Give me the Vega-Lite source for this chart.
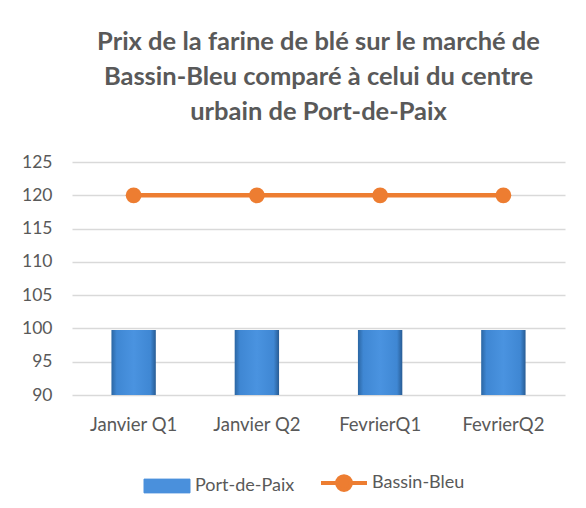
{
  "$schema": "https://vega.github.io/schema/vega-lite/v6.json",
  "width": 493,
  "height": 233,
  "autosize": "none",
  "padding": {"left": 72, "top": 162, "right": 21, "bottom": 113},
  "background": "white",
  "title": {
    "text": ["Prix de la farine de blé sur le marché de", "Bassin-Bleu comparé à celui du centre", "urbain de Port-de-Paix"],
    "font": "Lato",
    "fontSize": 25.5,
    "fontWeight": "bold",
    "color": "#595959",
    "lineHeight": 35,
    "anchor": "middle",
    "offset": 28
  },
  "data": {
    "values": [
      {"period": "Janvier Q1", "series": "Port-de-Paix", "value": 99.75},
      {"period": "Janvier Q2", "series": "Port-de-Paix", "value": 99.75},
      {"period": "FevrierQ1", "series": "Port-de-Paix", "value": 99.75},
      {"period": "FevrierQ2", "series": "Port-de-Paix", "value": 99.75},
      {"period": "Janvier Q1", "series": "Bassin-Bleu", "value": 120},
      {"period": "Janvier Q2", "series": "Bassin-Bleu", "value": 120},
      {"period": "FevrierQ1", "series": "Bassin-Bleu", "value": 120},
      {"period": "FevrierQ2", "series": "Bassin-Bleu", "value": 120}
    ]
  },
  "encoding": {
    "x": {
      "field": "period",
      "type": "nominal",
      "sort": null,
      "title": null,
      "scale": {"paddingInner": 0.64, "paddingOuter": 0.32},
      "axis": {"labelAngle": 0, "labelFontSize": 18.5, "labelColor": "#595959", "labelFont": "Lato", "labelPadding": 20, "ticks": false, "domain": false, "grid": false}
    },
    "y": {
      "field": "value",
      "type": "quantitative",
      "title": null,
      "scale": {"domain": [90, 125], "zero": false, "nice": false},
      "axis": {"values": [90, 95, 100, 105, 110, 115, 120, 125], "labelFontSize": 17.5, "labelColor": "#595959", "labelFont": "Lato", "labelPadding": 20, "ticks": false, "domain": false, "gridColor": "#d9d9d9", "gridWidth": 1.5}
    }
  },
  "layer": [
    {
      "transform": [{"filter": "datum.series == 'Port-de-Paix'"}],
      "mark": {
        "type": "bar",
        "color": {
          "gradient": "linear",
          "x1": 0, "x2": 1, "y1": 0, "y2": 0,
          "stops": [
            {"offset": 0, "color": "#2b66a3"},
            {"offset": 0.12, "color": "#3f87d3"},
            {"offset": 0.5, "color": "#4a93e0"},
            {"offset": 0.88, "color": "#3f87d3"},
            {"offset": 1, "color": "#285c94"}
          ]
        }
      },
      "encoding": {
        "y2": {"datum": 90}
      }
    },
    {
      "transform": [{"filter": "datum.series == 'Bassin-Bleu'"}],
      "mark": {"type": "line", "strokeWidth": 4.5, "point": {"filled": true, "size": 250, "color": "#E8731F"}},
      "encoding": {
        "color": {
          "field": "series",
          "type": "nominal",
          "scale": {"domain": ["Port-de-Paix", "Bassin-Bleu"], "range": ["#4a90dc", "#ED7D31"]},
          "legend": {
            "title": null,
            "orient": "none",
            "legendX": 86,
            "legendY": 312,
            "direction": "horizontal",
            "labelFontSize": 18,
            "labelColor": "#595959",
            "labelFont": "Lato",
            "labelOffset": 19,
            "columnPadding": 18,
            "symbolSize": 2116,
            "encode": {
              "symbols": {
                "update": {
                  "shape": {"signal": "datum.value == 'Port-de-Paix' ? 'M-1,-0.3H1V0.3H-1Z' : 'M-1,0H-0.3M0.3,0H1M0.3,0A0.3,0.3 0 1,1 -0.3,0A0.3,0.3 0 1,1 0.3,0Z'"},
                  "fill": {"signal": "datum.value == 'Port-de-Paix' ? '#3f85d0' : '#E06A1F'"},
                  "stroke": {"signal": "datum.value == 'Port-de-Paix' ? '#2e6aa8' : '#ED7D31'"},
                  "strokeWidth": {"signal": "datum.value == 'Port-de-Paix' ? 1 : 4"},
                  "opacity": {"value": 1},
                  "fillOpacity": {"value": 1}
                }
              }
            }
          }
        }
      }
    }
  ],
  "config": {"view": {"stroke": null}, "font": "Lato"}
}
